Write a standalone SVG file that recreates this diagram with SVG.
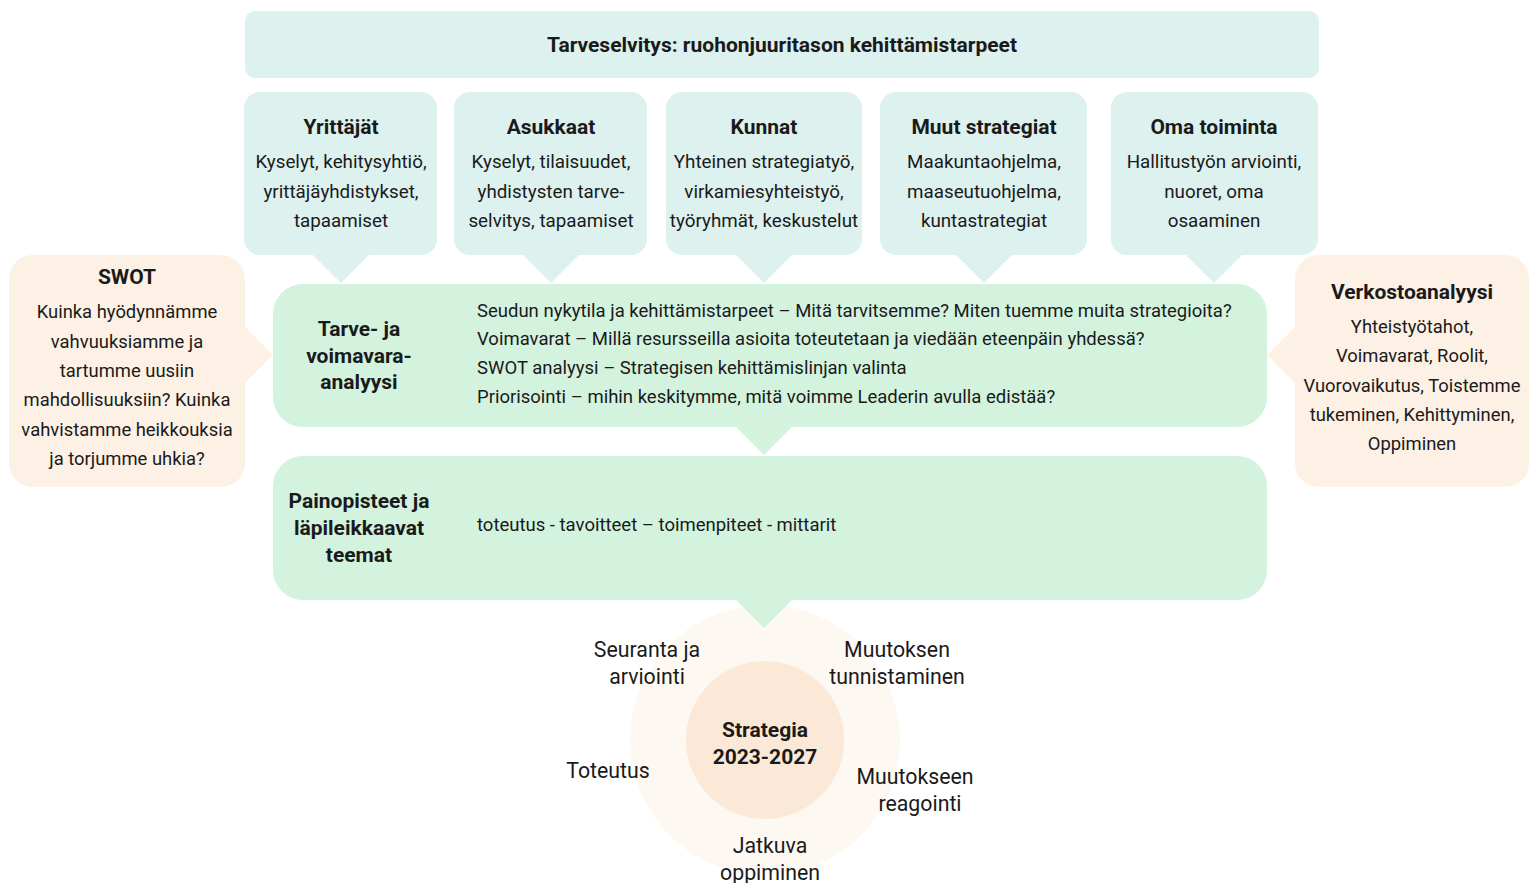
<svg xmlns="http://www.w3.org/2000/svg" width="1529" height="883" viewBox="0 0 1529 883">
<style>
text{font-family:Roboto,"Liberation Sans",sans-serif;fill:#1a1a1a;}
.t{font-size:18.8px;text-anchor:middle;}
.s{font-size:18.4px;text-anchor:middle;}
.b{font-weight:bold;font-size:21px;text-anchor:middle;}
.l{font-size:18.5px;}
.c{font-size:21.3px;text-anchor:middle;}
.teal{fill:#ddf1ef;}
.green{fill:#d3f3de;}
.peach{fill:#fdf0e5;}
</style>
<rect width="1529" height="883" fill="#ffffff"/>
<g id="circle">
<circle cx="765" cy="740" r="135" fill="#fef8f2"/>
<circle cx="765" cy="740" r="79" fill="#fbe8d6"/>
<text class="b" x="765" y="737">Strategia</text>
<text class="b" x="765" y="764">2023-2027</text>
</g>
<g id="connectors">
<polygon class="teal" points="313,255 369,255 341,283"/>
<polygon class="teal" points="523,255 579,255 551,283"/>
<polygon class="teal" points="736,255 792,255 764,283"/>
<polygon class="teal" points="956,255 1012,255 984,283"/>
<polygon class="teal" points="1186,255 1242,255 1214,283"/>
<polygon class="green" points="736,427 792,427 764,455"/>
<polygon class="green" points="736,600 792,600 764,628"/>
<polygon class="peach" points="245,327 245,383 273,355"/>
<polygon class="peach" points="1295,327 1295,383 1267,355"/>
</g>
<g id="title">
<rect class="teal" x="245" y="11" width="1074" height="67" rx="10"/>
<text class="b" x="782" y="52">Tarveselvitys: ruohonjuuritason kehittämistarpeet</text>
</g>
<g id="yrittajat">
<rect class="teal" x="244" y="92" width="193" height="163" rx="16"/>
<text class="b" x="341" y="134">Yrittäjät</text>
<text class="t" x="341" y="168">Kyselyt, kehitysyhtiö,</text>
<text class="t" x="341" y="198">yrittäjäyhdistykset,</text>
<text class="t" x="341" y="227">tapaamiset</text>
</g>
<g id="asukkaat">
<rect class="teal" x="454" y="92" width="193" height="163" rx="16"/>
<text class="b" x="551" y="134">Asukkaat</text>
<text class="t" x="551" y="168">Kyselyt, tilaisuudet,</text>
<text class="t" x="551" y="198">yhdistysten tarve-</text>
<text class="t" x="551" y="227">selvitys, tapaamiset</text>
</g>
<g id="kunnat">
<rect class="teal" x="666" y="92" width="196" height="163" rx="16"/>
<text class="b" x="764" y="134">Kunnat</text>
<text class="t" x="764" y="168">Yhteinen strategiatyö,</text>
<text class="t" x="764" y="198">virkamiesyhteistyö,</text>
<text class="t" x="764" y="227">työryhmät, keskustelut</text>
</g>
<g id="muut">
<rect class="teal" x="880" y="92" width="207" height="163" rx="16"/>
<text class="b" x="984" y="134">Muut strategiat</text>
<text class="t" x="984" y="168">Maakuntaohjelma,</text>
<text class="t" x="984" y="198">maaseutuohjelma,</text>
<text class="t" x="984" y="227">kuntastrategiat</text>
</g>
<g id="oma">
<rect class="teal" x="1111" y="92" width="207" height="163" rx="16"/>
<text class="b" x="1214" y="134">Oma toiminta</text>
<text class="t" x="1214" y="168">Hallitustyön arviointi,</text>
<text class="t" x="1214" y="198">nuoret, oma</text>
<text class="t" x="1214" y="227">osaaminen</text>
</g>
<g id="swot">
<rect class="peach" x="9" y="255" width="236" height="232" rx="24"/>
<text class="b" x="127" y="284">SWOT</text>
<text class="s" x="127" y="318">Kuinka hyödynnämme</text>
<text class="s" x="127" y="348">vahvuuksiamme ja</text>
<text class="s" x="127" y="377">tartumme uusiin</text>
<text class="s" x="127" y="406">mahdollisuuksiin? Kuinka</text>
<text class="s" x="127" y="436">vahvistamme heikkouksia</text>
<text class="s" x="127" y="465">ja torjumme uhkia?</text>
</g>
<g id="verkosto">
<rect class="peach" x="1295" y="255" width="234" height="232" rx="24"/>
<text class="b" x="1412" y="299">Verkostoanalyysi</text>
<text class="s" x="1412" y="333">Yhteistyötahot,</text>
<text class="s" x="1412" y="362">Voimavarat, Roolit,</text>
<text class="s" x="1412" y="392">Vuorovaikutus, Toistemme</text>
<text class="s" x="1412" y="421">tukeminen, Kehittyminen,</text>
<text class="s" x="1412" y="450">Oppiminen</text>
</g>
<g id="analyysi">
<rect class="green" x="273" y="284" width="994" height="143" rx="30"/>
<text class="b" x="359" y="336">Tarve- ja</text>
<text class="b" x="359" y="363">voimavara-</text>
<text class="b" x="359" y="389">analyysi</text>
<text class="l" x="477" y="317">Seudun nykytila ja kehittämistarpeet – Mitä tarvitsemme? Miten tuemme muita strategioita?</text>
<text class="l" x="477" y="345">Voimavarat – Millä resursseilla asioita toteutetaan ja viedään eteenpäin yhdessä?</text>
<text class="l" x="477" y="374">SWOT analyysi  – Strategisen kehittämislinjan valinta</text>
<text class="l" x="477" y="403">Priorisointi – mihin keskitymme, mitä voimme Leaderin avulla edistää?</text>
</g>
<g id="painopisteet">
<rect class="green" x="273" y="456" width="994" height="144" rx="30"/>
<text class="b" x="359" y="508">Painopisteet ja</text>
<text class="b" x="359" y="535">läpileikkaavat</text>
<text class="b" x="359" y="562">teemat</text>
<text class="l" x="477" y="531">toteutus - tavoitteet – toimenpiteet - mittarit</text>
</g>
<g id="labels">
<text class="c" x="647" y="657">Seuranta ja</text>
<text class="c" x="647" y="684">arviointi</text>
<text class="c" x="897" y="657">Muutoksen</text>
<text class="c" x="897" y="684">tunnistaminen</text>
<text class="c" x="608" y="778">Toteutus</text>
<text class="c" x="915" y="784">Muutokseen</text>
<text class="c" x="920" y="811">reagointi</text>
<text class="c" x="770" y="853">Jatkuva</text>
<text class="c" x="770" y="880">oppiminen</text>
</g>
</svg>
